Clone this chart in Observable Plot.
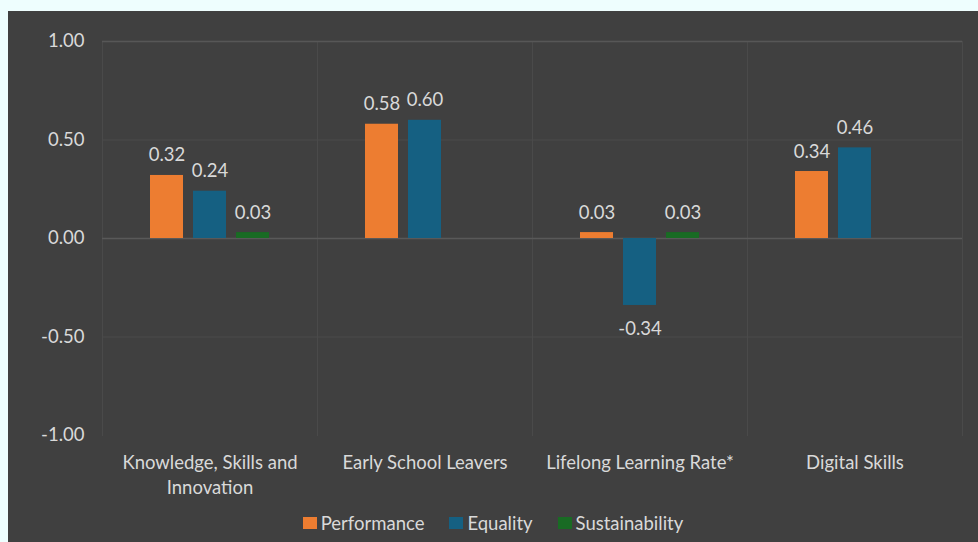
<!DOCTYPE html>
<html>
<head>
<meta charset="utf-8">
<script src="https://cdn.jsdelivr.net/npm/d3@7"></script>
<script src="https://cdn.jsdelivr.net/npm/@observablehq/plot@0.6"></script>
<style>
  html, body { margin: 0; padding: 0; width: 978px; height: 542px; overflow: hidden; background: #eefefe; }
  #panel { position: absolute; left: 8px; top: 11px; width: 970px; height: 531px; background: #404040;
           font-family: Lato, sans-serif; color: #d9d9d9; }
  #chart { position: absolute; left: 0; top: 0; }
  #legend { position: absolute; left: 0; right: 0; top: 500px; display: flex; justify-content: center;
            gap: 25px; font-size: 18.5px; line-height: 24px; }
  .item { display: flex; align-items: center; gap: 4px; }
  .swatch { width: 14px; height: 12px; display: inline-block; }
</style>
</head>
<body>
<div id="panel">
  <div id="chart"></div>
  <div id="legend"></div>
</div>
<script>
// Index scores by area and dimension
const categories = ["Knowledge, Skills and Innovation", "Early School Leavers", "Lifelong Learning Rate*", "Digital Skills"];
const categoryLabels = ["Knowledge, Skills and\nInnovation", "Early School Leavers", "Lifelong Learning Rate*", "Digital Skills"];
const series = ["Performance", "Equality", "Sustainability"];
const performance = [0.32, 0.58, 0.03, 0.34];
const equality = [0.24, 0.60, -0.34, 0.46];
const sustainability = [0.03, null, 0.03, null];
const yTicks = [1, 0.5, 0, -0.5, -1];
const colors = ["#ED7D31", "#156082", "#196B24"];

const values = [performance, equality, sustainability];
const rows = categories.flatMap((c, i) =>
  series.map((s, j) => ({category: c, series: s, value: values[j][i]}))
).filter(d => d.value != null);

const fmt = d => d.toFixed(2);
const labelOf = new Map(categories.map((c, i) => [c, categoryLabels[i]]));

const chart = Plot.plot({
  width: 970,
  height: 492,
  marginTop: 30,
  marginBottom: 68,
  marginLeft: 92,
  marginRight: 15,
  style: {background: "transparent", color: "#d9d9d9", fontFamily: "Lato, sans-serif", fontSize: "18.5px"},
  fx: {domain: categories, padding: 0, label: null},
  x: {domain: series, paddingInner: 0.227, paddingOuter: 1.066, axis: null},
  y: {domain: [-1, 1], label: null},
  color: {domain: series, range: colors},
  marks: [
    // inner grid lines (the bottom line at -1 is left out)
    Plot.ruleY([0.5, -0.5], {stroke: "#4b4b4b"}),
    Plot.frame({anchor: "left", stroke: "#4a4a4a"}),
    Plot.frame({anchor: "right", stroke: "#4a4a4a"}),
    Plot.ruleY([1], {stroke: "#575757", strokeWidth: 1.5}),
    Plot.ruleY([0], {stroke: "#595959", strokeWidth: 1.5}),
    Plot.barY(rows, {fx: "category", x: "series", y: "value", fill: "series"}),
    Plot.text(rows.filter(d => d.value >= 0), {
      fx: "category", x: "series", y: "value", text: d => fmt(d.value),
      lineAnchor: "bottom", dy: -14, fill: "#d9d9d9", fontSize: 18.5
    }),
    Plot.text(rows.filter(d => d.value < 0), {
      fx: "category", x: "series", y: "value", text: d => "-" + fmt(-d.value),
      lineAnchor: "top", dy: 16, fill: "#d9d9d9", fontSize: 18.5
    }),
    Plot.axisY(yTicks, {
      tickSize: 0, tickPadding: 18, fontSize: 18.5, fill: "#d9d9d9",
      tickFormat: d => (d < 0 ? "-" + fmt(-d) : fmt(d))
    }),
    Plot.axisFx({
      anchor: "bottom", tickSize: 0, tickPadding: 16, fontSize: 18.5, lineHeight: 1.35,
      fill: "#d9d9d9", tickFormat: c => labelOf.get(c), label: null
    })
  ]
});
document.getElementById("chart").append(chart);

const legend = document.getElementById("legend");
series.forEach((s, i) => {
  const item = document.createElement("div");
  item.className = "item";
  const sw = document.createElement("span");
  sw.className = "swatch";
  sw.style.background = colors[i];
  const label = document.createElement("span");
  label.textContent = s;
  item.append(sw, label);
  legend.append(item);
});
</script>
</body>
</html>
